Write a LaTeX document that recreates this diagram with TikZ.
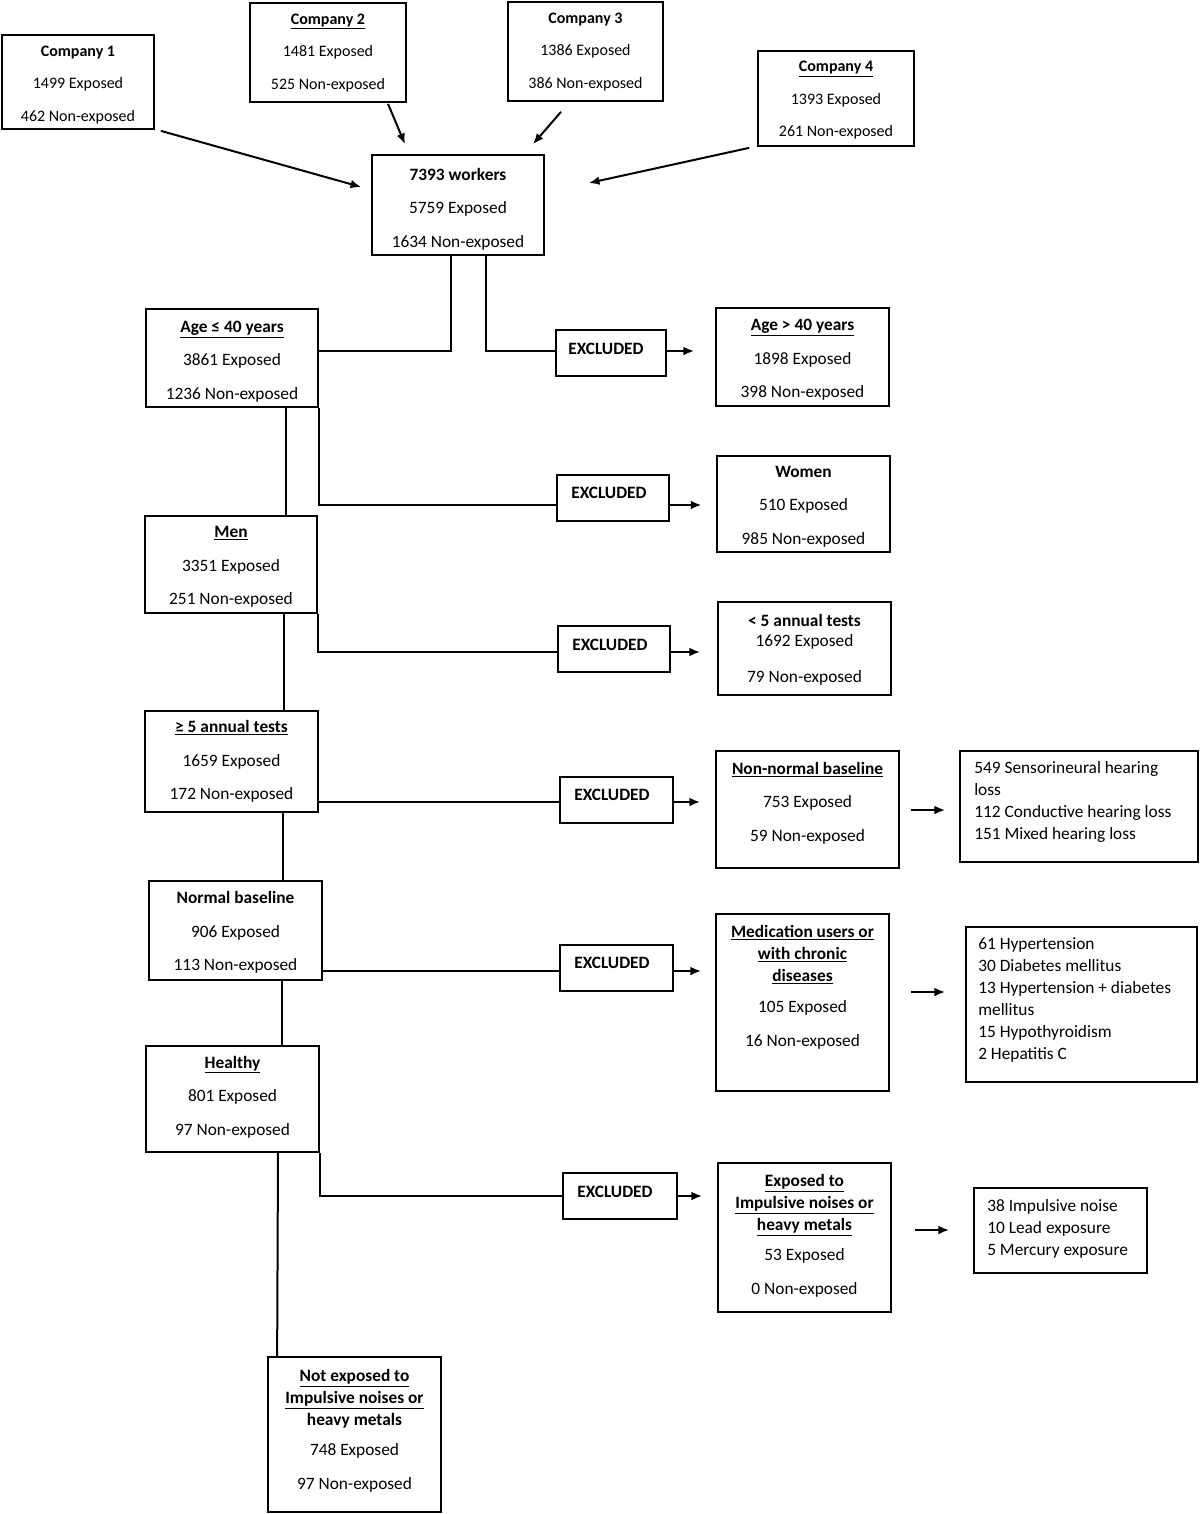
\documentclass[tikz,border=0pt]{standalone}
\usepackage{fontspec}
\setmainfont{Carlito}
\usetikzlibrary{calc,arrows.meta}
\begin{document}
\begin{tikzpicture}[x=0.75pt,y=-0.75pt,
 box/.style 2 args={draw,line width=1.3pt,inner sep=0pt,minimum width=#1*0.75pt,minimum height=#2*0.75pt},
 ctxt/.style={align=center,inner sep=0pt,yshift=-1.8pt,font=\fontsize{12pt}{24.4pt}\selectfont},
 mtxt/.style={align=center,inner sep=0pt,yshift=-1.5pt,font=\fontsize{13pt}{25.2pt}\selectfont},
 ntxt/.style={align=center,inner sep=0pt,yshift=-1.5pt,font=\fontsize{13pt}{16.5pt}\selectfont},
 ltxt/.style={align=left,anchor=west,inner sep=0pt,yshift=-1.5pt,font=\fontsize{13pt}{16.5pt}\selectfont},
 xtxt/.style={inner sep=0pt,yshift=-0.8pt,font=\fontsize{13pt}{15pt}\selectfont\bfseries},
 link/.style={line width=1.5pt},
 arr/.style={line width=1.5pt,-{Latex[length=8pt,width=6.5pt]}},
]
\useasboundingbox (0,0) rectangle (1200,1514);

% ---------- boxes ----------
\node[box={152}{94}]  (c1) at (78,82) {};
\node[box={156}{99}]  (c2) at (328,52.5) {};
\node[box={155}{99}]  (c3) at (585.5,51.5) {};
\node[box={156}{95}]  (c4) at (836,98.5) {};
\node[box={172}{100}] (main) at (458,205) {};
\node[box={172}{98}]  (age) at (232,358) {};
\node[box={110}{46}]  (ex1) at (611,353) {};
\node[box={173}{98}]  (age40) at (802.5,357) {};
\node[box={112}{46}]  (ex2) at (613,498) {};
\node[box={173}{96}]  (women) at (803.5,504) {};
\node[box={172}{97}]  (men) at (231,564.5) {};
\node[box={112}{46}]  (ex3) at (614,649) {};
\node[box={173}{93}]  (lt5) at (804.5,648.5) {};
\node[box={173}{101}] (ge5) at (231.5,761.5) {};
\node[box={113}{46}]  (ex4) at (616.5,800) {};
\node[box={183}{117}] (nonnorm) at (807.5,809.5) {};
\node[box={238}{111}] (hear) at (1079,806.5) {};
\node[box={173}{99}]  (normal) at (235.5,930.5) {};
\node[box={113}{46}]  (ex5) at (616.5,968) {};
\node[box={173}{177}] (med) at (802.5,1002.5) {};
\node[box={231}{155}] (dis) at (1081.5,1004.5) {};
\node[box={173}{106}] (healthy) at (232.5,1099) {};
\node[box={114}{46}]  (ex6) at (620,1196) {};
\node[box={173}{149}] (expimp) at (804.5,1237.5) {};
\node[box={173}{85}]  (imp) at (1060.5,1230.5) {};
\node[box={173}{155}] (notexp) at (354.5,1434.5) {};

% ---------- texts ----------
\node[ctxt] (c1t) at (78,82.5) {\textbf{Company 1}\\1499 Exposed\\462 Non-exposed};
\node[ctxt] (c2t) at (328,50.5) {\underline{\textbf{Company 2}}\\1481 Exposed\\525 Non-exposed};
\node[ctxt] (c3t) at (585.5,49.5) {\textbf{Company 3}\\1386 Exposed\\386 Non-exposed};
\node[ctxt] (c4t) at (836,98) {\underline{\textbf{Company 4}}\\1393 Exposed\\261 Non-exposed};
\node[mtxt] (maint) at (458,207) {\textbf{7393 workers}\\5759 Exposed\\1634 Non-exposed};
\node[mtxt] (aget) at (232,359.5) {\underline{\textbf{Age ≤ 40 years}}\\3861 Exposed\\1236 Non-exposed};
\node[xtxt] (ex1t) at (606,348) {EXCLUDED};
\node[mtxt] (age40t) at (802.5,358) {\underline{\textbf{Age > 40 years}}\\1898 Exposed\\398 Non-exposed};
\node[xtxt] (ex2t) at (609,492) {EXCLUDED};
\node[mtxt] (woment) at (803.5,504.5) {\textbf{Women}\\510 Exposed\\985 Non-exposed};
\node[mtxt] (ment) at (231,565) {\underline{\textbf{Men}}\\3351 Exposed\\251 Non-exposed};
\node[xtxt] (ex3t) at (610,644) {EXCLUDED};
\node[mtxt] (lt5t) at (804.5,648) {\textbf{< 5 annual tests}\\[-10pt]1692 Exposed\\[2pt]79 Non-exposed};
\node[mtxt] (ge5t) at (231.5,759.5) {\underline{\textbf{≥ 5 annual tests}}\\1659 Exposed\\172 Non-exposed};
\node[xtxt] (ex4t) at (612,794) {EXCLUDED};
\node[mtxt] (nonnormt) at (807.5,801) {\underline{\textbf{Non-normal baseline}}\\753 Exposed\\59 Non-exposed};
\node[ltxt] (heart) at (974,800) {549 Sensorineural hearing\\loss\\112 Conductive hearing loss\\151 Mixed hearing loss};
\node[mtxt] (normalt) at (235.5,930.5) {\textbf{Normal baseline}\\906 Exposed\\113 Non-exposed};
\node[xtxt] (ex5t) at (612,962) {EXCLUDED};
\node[ntxt] (medt) at (802.5,985.5) {\underline{\textbf{Medication users or}}\\\underline{\textbf{with chronic}}\\\underline{\textbf{diseases}}\\[6.75pt]105 Exposed\\[9pt]16 Non-exposed};
\node[ltxt] (dist) at (978,998) {61 Hypertension\\30 Diabetes mellitus\\13 Hypertension + diabetes\\mellitus\\15 Hypothyroidism\\2 Hepatitis C};
\node[mtxt] (healthyt) at (232.5,1095) {\underline{\textbf{Healthy}}\\801 Exposed\\97 Non-exposed};
\node[xtxt] (ex6t) at (615,1191) {EXCLUDED};
\node[ntxt] (expimpt) at (804.5,1234) {\underline{\textbf{Exposed to}}\\\underline{\textbf{Impulsive noises or}}\\\underline{\textbf{heavy metals}}\\[6pt]53 Exposed\\[9pt]0 Non-exposed};
\node[ltxt] (impt) at (987,1227) {38 Impulsive noise\\10 Lead exposure\\5 Mercury exposure};
\node[ntxt] (notexpt) at (354.5,1429) {\underline{\textbf{Not exposed to}}\\\underline{\textbf{Impulsive noises or}}\\\textbf{heavy metals}\\[6pt]748 Exposed\\[9pt]97 Non-exposed};

% ---------- connectors ----------
\draw[arr] ($(c1.south east)+(6,1)$) -- ($(main.west)+(-10,-18)$);
\draw[arr] ($(c2.south)+(60,1)$) -- ($(main.north)+(-53,-10)$);
\draw[arr] ($(c3.south)+(-24.5,10)$) -- ($(main.north)+(75,-10)$);
\draw[arr] ($(c4.south west)+(-8,1)$) -- ($(main.east)+(44,-22)$);

\draw[link] ($(main.south)+(-7,0)$) |- ($(age.east)+(0,-7)$);
\draw[link] ($(main.south)+(28,0)$) |- ($(ex1.west)+(0,-2)$);
\draw[arr,shorten >=15.75pt] ($(ex1.east)+(0,-2)$) -- ($(ex1.east -| age40.west)+(0,-2)$);

\draw[link] ($(age.south)+(54,0)$) -- ($(men.north)+(55,0)$);
\draw[link] (age.south east) |- ($(ex2.west)+(0,7)$);
\draw[arr,shorten >=11pt] ($(ex2.east)+(0,7)$) -- ($(ex2.east -| women.west)+(0,7)$);

\draw[link] ($(men.south)+(53,0)$) -- ($(ge5.north)+(52.5,0)$);
\draw[link] (men.south east) |- ($(ex3.west)+(0,3)$);
\draw[arr,shorten >=12.75pt] ($(ex3.east)+(0,3)$) -- ($(ex3.east -| lt5.west)+(0,3)$);

\draw[link] ($(ge5.south)+(51.5,0)$) -- ($(normal.north)+(47.5,0)$);
\draw[link] ($(ex4.west)+(0,2)$) -- ($(ex4.west -| ge5.east)+(0,2)$);
\draw[arr,shorten >=11.25pt] ($(ex4.east)+(0,2)$) -- ($(ex4.east -| nonnorm.west)+(0,2)$);
\draw[arr,shorten <=8.25pt,shorten >=10.5pt] ($(nonnorm.east)+(0,0.5)$) -- ($(nonnorm.east -| hear.west)+(0,0.5)$);

\draw[link] ($(normal.south)+(46.5,0)$) -- ($(healthy.north)+(49.5,0)$);
\draw[link] ($(ex5.west)+(0,3)$) -- ($(ex5.west -| normal.east)+(0,3)$);
\draw[arr,shorten >=10.5pt] ($(ex5.east)+(0,3)$) -- ($(ex5.east -| med.west)+(0,3)$);
\draw[arr,shorten <=15.75pt,shorten >=15pt] ($(med.east)+(0,-10.5)$) -- ($(med.east -| dis.west)+(0,-10.5)$);

\draw[link] ($(healthy.south)+(45.5,0)$) -- ($(notexp.north west)+(10,0)$);
\draw[link] (healthy.south east) |- (ex6.west);
\draw[arr,shorten >=11.25pt] (ex6.east) -- (ex6.east -| expimp.west);
\draw[arr,shorten <=17.25pt,shorten >=18pt] ($(expimp.east)+(0,-7.5)$) -- ($(expimp.east -| imp.west)+(0,-7.5)$);
\end{tikzpicture}
\end{document}
